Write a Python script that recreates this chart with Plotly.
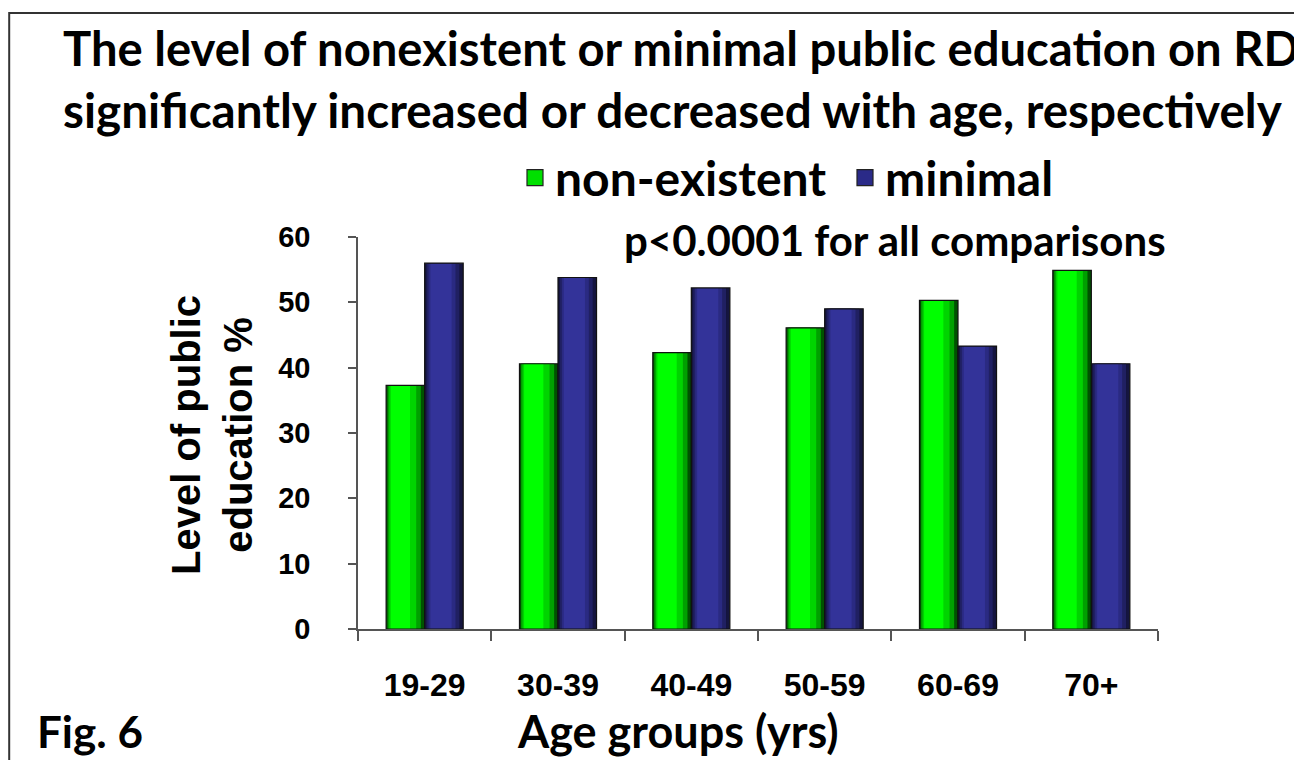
import plotly.graph_objects as go

# ---- data ----
age_groups = ["19-29", "30-39", "40-49", "50-59", "60-69", "70+"]
non_existent = [37.3, 40.6, 42.3, 46.1, 50.3, 54.9]
minimal = [56.0, 53.8, 52.2, 49.0, 43.3, 40.6]
y_ticks = [0, 10, 20, 30, 40, 50, 60]

OFF = 8  # page body margin
W, H = 1302 - OFF, 760 - OFF
ML, MR, MT, MB = 358 - OFF, 144, 237 - OFF, 131
PW, PH = W - ML - MR, H - MT - MB


def px2x(px):
    return (px - OFF - ML) / PW


def px2y(py):
    return (H - MB - (py - OFF)) / PH


CAL = "Lato"
ARI = "Liberation Sans"

bw = 0.289  # bar width in category units

green_layers = [(0.0, 1.0, "#005200"), (0.04, 0.9, "#00a000"), (0.08, 0.78, "#00d400"), (0.12, 0.62, "#00ff00")]
blue_layers = [(0.0, 1.0, "#15153f"), (0.05, 0.9, "#202062"), (0.1, 0.8, "#2a2a82"), (0.15, 0.7, "#333399")]

fig = go.Figure()


def add_series(name, values, layers, base_offset, legend_color):
    n = len(layers)
    for i, (a, b, col) in enumerate(layers):
        fig.add_trace(go.Bar(
            x=age_groups, y=values, name=name,
            offset=base_offset + a * bw, width=(b - a) * bw,
            marker=dict(color=col, line=dict(width=0)),
            showlegend=False, legendgroup=name,
            hoverinfo="skip" if i < n - 1 else None,
        ))
    # outline
    fig.add_trace(go.Bar(
        x=age_groups, y=values, name=name,
        offset=base_offset, width=bw,
        marker=dict(color="rgba(0,0,0,0)", line=dict(width=1.2, color="#111111")),
        showlegend=False, legendgroup=name, hoverinfo="skip",
    ))
    # legend key
    fig.add_trace(go.Scatter(
        x=[None], y=[None], name=name, mode="markers", legendgroup=name,
        marker=dict(symbol="square", size=16, color=legend_color, line=dict(width=1.2, color="#222222")),
    ))


add_series("non-existent", non_existent, green_layers, -bw, "#00e000")
add_series("minimal", minimal, blue_layers, 0.0, "#2a2a88")

fig.update_layout(
    width=W, height=H,
    margin=dict(l=ML, r=MR, t=MT, b=MB, autoexpand=False),
    paper_bgcolor="white", plot_bgcolor="white",
    barmode="overlay",
    showlegend=True,
    legend=dict(
        orientation="h", x=px2x(515), y=px2y(178), xanchor="left", yanchor="middle",
        font=dict(family=CAL, size=48, color="black", weight="bold"),
        bgcolor="rgba(0,0,0,0)", itemsizing="trace", entrywidth=285,
        traceorder="normal",
    ),
    xaxis=dict(
        type="category", categoryorder="array", categoryarray=age_groups,
        showline=True, linecolor="#555555", linewidth=1.5,
        ticks="outside", ticklen=10, tickcolor="#555555", tickwidth=1.5,
        tickson="boundaries", ticklabelstandoff=27,
        tickfont=dict(family=ARI, size=32, color="black", weight="bold"),
        showgrid=False, zeroline=False,
    ),
    yaxis=dict(
        range=[0, 60], tickvals=y_ticks,
        showline=True, linecolor="#555555", linewidth=1.5,
        ticks="outside", ticklen=8, tickcolor="#555555", tickwidth=1.5,
        ticklabelstandoff=32,
        tickfont=dict(family=ARI, size=29, color="black", weight="bold"),
        showgrid=False, zeroline=False,
    ),
)

annots = [
    dict(text="<b>The level of nonexistent or minimal public education on RD</b>", x=px2x(61), y=px2y(47),
         xanchor="left", yanchor="middle", font=dict(family=CAL, size=47.2, color="black")),
    dict(text="<b>significantly increased or decreased with age, respectively</b>", x=px2x(61), y=px2y(110),
         xanchor="left", yanchor="middle", font=dict(family=CAL, size=47.6, color="black")),
    dict(text="<b>p<0.0001 for all comparisons</b>", x=px2x(622), y=px2y(240),
         xanchor="left", yanchor="middle", font=dict(family=CAL, size=42, color="black")),
    dict(text="<b>Level of public<br>education %</b>", x=px2x(212), y=px2y(435), textangle=-90,
         xanchor="center", yanchor="middle", font=dict(family=ARI, size=40, color="black")),
    dict(text="<b>Age groups (yrs)</b>", x=px2x(678), y=px2y(731),
         xanchor="center", yanchor="middle", font=dict(family=CAL, size=45, color="black")),
    dict(text="<b>Fig. 6</b>", x=px2x(35), y=px2y(731),
         xanchor="left", yanchor="middle", font=dict(family=CAL, size=44, color="black")),
]
for a in annots:
    fig.add_annotation(xref="paper", yref="paper", showarrow=False, **a)

# outer frame (left edge sits at the page's left margin)
fig.add_shape(type="rect", xref="paper", yref="paper",
              x0=px2x(OFF + 1.2), x1=px2x(1330), y0=px2y(800), y1=px2y(13),
              line=dict(color="#333333", width=2), fillcolor="rgba(0,0,0,0)", layer="below")

fig.write_html("out.html")
